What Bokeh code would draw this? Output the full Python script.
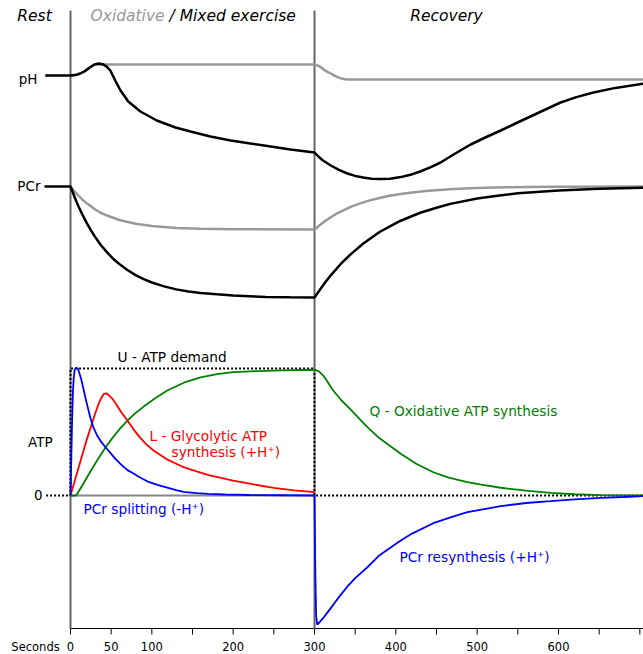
from bokeh.plotting import figure
from bokeh.models import Range1d, FixedTicker, Label
from bokeh.embed import file_html
from bokeh.resources import INLINE

# ---------------- data ----------------
phase_t = [0, 300]                       # start of exercise, start of recovery (s)

# pH (mixed exercise, black)
ph_mixed_t = [-31, 0, 6, 12, 17, 22, 26, 29.5, 34.5, 40.5, 45, 49, 55, 61.5, 71, 86, 106, 129, 147.5,
              172, 197, 221, 246, 270.5, 300, 305, 310, 320, 330, 340.5, 350, 360, 370, 381, 393,
              406, 418, 430, 443, 455, 473, 492, 510, 529, 547, 565.5, 584, 602.5, 622, 643, 670,
              705]
ph_mixed = [7.0, 7.0, 7.001, 7.005, 7.01, 7.0175, 7.023, 7.0275, 7.03, 7.0275, 7.021, 7.0125, 6.9875,
            6.9625, 6.935, 6.91, 6.8875, 6.87, 6.86, 6.8475, 6.8375, 6.83, 6.8225, 6.815, 6.8075,
            6.797, 6.788, 6.775, 6.764, 6.755, 6.749, 6.745, 6.742, 6.741, 6.742, 6.746, 6.752,
            6.76, 6.771, 6.7825, 6.805, 6.8275, 6.845, 6.8625, 6.88, 6.8975, 6.915, 6.9325, 6.946,
            6.9575, 6.969, 6.98]
# pH (oxidative exercise, grey)
ph_oxid_t = [0, 6, 12, 17, 22, 26, 29.5, 35, 300, 303, 306, 309, 312, 316, 320, 324, 327, 331, 334,
             338, 341, 705]
ph_oxid = [7.0, 7.001, 7.005, 7.01, 7.0175, 7.023, 7.0275, 7.0275, 7.0275, 7.026, 7.023, 7.0185,
           7.014, 7.009, 7.005, 7.0005, 6.997, 6.994, 6.992, 6.9905, 6.99, 6.99]

# PCr (% of rest)
pcr_mixed_t = [-32, 0, 2.5, 5, 7.5, 10, 15, 20, 25, 30, 37, 45, 52, 60, 70, 80, 90, 100, 115, 130,
               145, 160, 180, 200, 220, 240, 270, 300, 303, 306, 312, 320, 332, 344, 360, 380, 395,
               406, 430, 450, 467, 500, 525, 550, 600, 650, 705]
pcr_mixed = [100, 100, 97.2, 94.3, 91.6, 89.1, 84.5, 80.2, 76.4, 72.9, 68.5, 64.4, 61.1, 58.1, 54.9,
             52.1, 49.9, 48.1, 46.0, 44.4, 43.2, 42.4, 41.7, 41.1, 40.7, 40.3, 40.1, 40.0, 41.9,
             43.8, 47.5, 52.0, 58.0, 63.2, 69.2, 75.4, 79.0, 81.5, 85.8, 88.5, 90.6, 93.5, 95.0,
             96.3, 97.8, 98.8, 99.4]
pcr_oxid_t = [0, 2.5, 5, 10, 15, 20, 30, 37, 45, 60, 80, 100, 130, 160, 200, 300, 302, 305, 312, 320,
              327, 335, 345, 357, 368, 380, 392, 406, 420, 440, 467, 490, 520, 560, 600, 705]
pcr_oxid = [100, 98.6, 97.2, 94.9, 92.8, 90.9, 87.7, 85.8, 84.3, 81.9, 79.9, 78.6, 77.6, 77.1, 76.9,
            76.8, 77.3, 78.6, 81.0, 83.4, 85.3, 87.0, 89.1, 91.0, 92.5, 93.8, 95.0, 96.0, 96.8,
            97.7, 98.5, 99.0, 99.4, 99.7, 99.8, 100]

# ATP fluxes (fraction of demand U)
demand_t = [-30, 0, 0, 300, 300, 705]
demand = [0, 0, 1, 1, 0, 0]
zero_t = [0, 300]
zero_v = [0, 0]
pcr_flux_t = [0, 1, 2, 3, 4, 5, 6, 7, 9, 11, 13, 15.5, 18, 21, 24.5, 28.5, 33, 38, 43, 49, 55, 62,
              70, 77.5, 86, 95, 107, 120, 130, 139, 155, 170, 190, 220, 260, 300,
              301, 302, 303.3, 306, 310, 316, 324, 330, 340, 350, 365, 380, 406, 420, 446, 470,
              488, 529, 560, 590, 620, 652, 680, 705]
pcr_flux = [0, 0.3, 0.6, 0.82, 0.93, 0.985, 1.0, 1.005, 1.0, 0.96, 0.92, 0.85, 0.78, 0.7, 0.61, 0.53,
            0.47, 0.42, 0.38, 0.335, 0.29, 0.245, 0.2, 0.173, 0.14, 0.11, 0.083, 0.06, 0.042, 0.028,
            0.018, 0.012, 0.008, 0.004, 0.002, 0.0,
            -0.6, -0.95, -1.016, -1.0, -0.97, -0.92, -0.853, -0.80, -0.72, -0.65, -0.565, -0.47,
            -0.354, -0.30, -0.218, -0.166, -0.131, -0.084, -0.059, -0.045, -0.03, -0.018, -0.012,
            -0.005]
oxphos_t = [0, 7, 15, 25, 35, 43, 50, 60, 70, 80, 90, 105, 119, 140, 160, 180, 200, 230, 260, 300,
            305, 310, 315, 323, 333, 344, 355, 365, 380, 406, 425, 446, 465, 488, 505, 529, 560,
            590, 620, 652, 680, 705]
oxphos = [0, 0, 0.085, 0.195, 0.3, 0.378, 0.44, 0.52, 0.59, 0.65, 0.70, 0.77, 0.827, 0.89, 0.93,
          0.955, 0.971, 0.98, 0.985, 0.99, 0.98, 0.95, 0.905, 0.827, 0.75, 0.68, 0.605, 0.538,
          0.45, 0.328, 0.25, 0.183, 0.14, 0.105, 0.085, 0.061, 0.038, 0.021, 0.01, 0.003, 0.001, 0.0]
glyco_t = [0, 5, 10, 15, 20, 25, 30, 35, 38, 41, 44, 47, 51, 55, 62, 70, 77, 85, 93, 102, 110, 120,
           130, 139, 155, 170, 185, 200, 225, 250, 275, 300]
glyco = [0, 0.11, 0.22, 0.33, 0.44, 0.54, 0.64, 0.73, 0.77, 0.80, 0.805, 0.79, 0.765, 0.73, 0.66,
         0.59, 0.525, 0.46, 0.405, 0.354, 0.32, 0.28, 0.25, 0.223, 0.19, 0.16, 0.138, 0.118, 0.087,
         0.06, 0.04, 0.026]

ticks = [0, 50, 100, 150, 200, 250, 300, 350, 400, 450, 500, 550, 600, 650, 700]
tick_labels = ["0", "50", "100", "", "200", "", "300", "", "400", "", "500", "", "600", "", ""]
caption_t = -43
caption = "Seconds"

# ---------------- figure ----------------
FONT = "DejaVu Sans"
GREY_CURVE = "#999999"
AXIS_Y = -1.0472           # ATP-units height of the time axis line
TICK_LEN = 0.047

p = figure(frame_width=643, frame_height=635, min_border=0,
           x_range=Range1d(-86.07, 704.5), y_range=Range1d(-1.10236, 3.8976),
           output_backend="svg", toolbar_location=None, y_axis_location=None,
           x_axis_location="below")
p.extra_y_ranges = {"ph": Range1d(5.6, 7.1875), "pcr": Range1d(-142.70, 200.54)}
p.outline_line_color = None
p.xgrid.visible = False
p.ygrid.visible = False
p.background_fill_color = "white"
p.border_fill_color = "white"

ax = p.xaxis[0]
ax.ticker = FixedTicker(ticks=[caption_t] + ticks)
overrides = {t: l for t, l in zip(ticks, tick_labels)}
overrides[caption_t] = caption
ax.major_label_overrides = overrides
ax.major_tick_in = 0
ax.major_tick_out = 0
ax.minor_tick_in = 0
ax.minor_tick_out = 0
ax.major_tick_line_color = None
ax.minor_tick_line_color = None
ax.axis_line_color = None
ax.major_label_standoff = 4
ax.major_label_text_font = FONT
ax.major_label_text_font_size = "11.5px"
ax.major_label_text_color = "black"

# time axis line and tick marks (drawn at the axis tick values)
p.line([ticks[0], 720], [AXIS_Y, AXIS_Y], line_color="black", line_width=1)
p.segment(x0=ticks, y0=[AXIS_Y] * len(ticks), x1=ticks, y1=[AXIS_Y - TICK_LEN] * len(ticks),
          line_color="black", line_width=1)

# phase boundaries
p.segment(x0=phase_t, y0=[AXIS_Y] * len(phase_t), x1=phase_t, y1=[3.819] * len(phase_t),
          line_color="#666666", line_width=2)

# ATP baseline and demand
p.line(zero_t, zero_v, line_color="#888888", line_width=2)
p.line(demand_t, demand, line_color="black", line_width=2, line_dash="2 2")

# pH
p.line(ph_oxid_t, ph_oxid, y_range_name="ph", line_color=GREY_CURVE, line_width=2.5)
p.line(ph_mixed_t, ph_mixed, y_range_name="ph", line_color="black", line_width=2.5)
# PCr
p.line(pcr_oxid_t, pcr_oxid, y_range_name="pcr", line_color=GREY_CURVE, line_width=2.5)
p.line(pcr_mixed_t, pcr_mixed, y_range_name="pcr", line_color="black", line_width=2.5)

# ATP fluxes
p.line(oxphos_t, oxphos, line_color="#008000", line_width=1.8)
p.line(glyco_t, glyco, line_color="#ff0000", line_width=1.8)
p.line(pcr_flux_t, pcr_flux, line_color="#0000ff", line_width=1.8)


def lab(x, y, text, color="black", size="13.7px", align="left", style="normal", yr="default"):
    p.add_layout(Label(x=x, y=y, text=text, text_color=color, text_font=FONT,
                       text_font_size=size, text_align=align, text_baseline="middle",
                       text_font_style=style, y_range_name=yr))


# header
lab(-44.3, 3.772, "Rest", size="15.5px", align="center", style="italic")
lab(24.6, 3.772, "Oxidative", color=GREY_CURVE, size="15.5px", style="italic")
lab(121.7, 3.772, "/ Mixed exercise", size="15.5px", style="italic")
lab(462.3, 3.772, "Recovery", size="15.5px", align="center", style="italic")

# panel labels
lab(-40.6, 6.991, "pH", align="right", size="13.5px", yr="ph")
lab(-36.9, 100.2, "PCr", align="right", size="13.5px", yr="pcr")
lab(-22.1, 0.425, "ATP", align="right", size="13.5px")
lab(-34.4, 0.0, "0", align="right", size="13.5px")

# flux labels
lab(57.8, 1.087, "U - ATP demand")
lab(97.1, 0.472, "L - Glycolytic ATP", color="#ff0000")
lab(124.2, 0.346, "synthesis (+H\u207a)", color="#ff0000")
lab(16.0, -0.105, "PCr splitting (-H\u207a)", color="#0000ff")
lab(367.6, 0.664, "Q - Oxidative ATP synthesis", color="#008000")
lab(404.5, -0.486, "PCr resynthesis (+H\u207a)", color="#0000ff")

open("out.html", "w").write(file_html(p, INLINE))
